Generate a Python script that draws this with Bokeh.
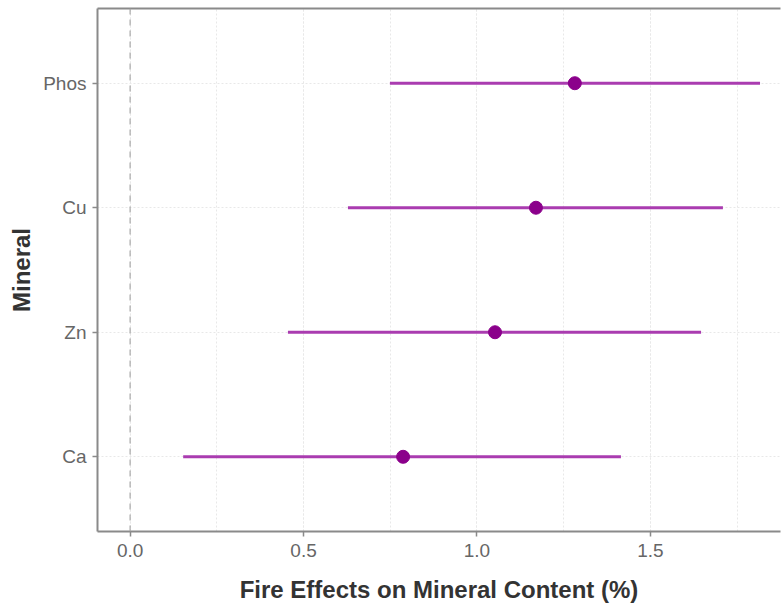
from bokeh.plotting import figure
from bokeh.models import (ColumnDataSource, Range1d, FactorRange, LinearAxis,
                          SingleIntervalTicker, FixedTicker, Span,
                          NumeralTickFormatter)
from bokeh.embed import file_html
from bokeh.resources import INLINE

# ---- data ----
minerals = ["Ca", "Zn", "Cu", "Phos"]
estimate = [0.787, 1.052, 1.170, 1.282]
lower = [0.153, 0.455, 0.628, 0.749]
upper = [1.415, 1.646, 1.709, 1.816]
x_label = "Fire Effects on Mineral Content (%)"
y_label = "Mineral"

src = ColumnDataSource(dict(mineral=minerals, est=estimate, lo=lower, hi=upper))

FONT = "Liberation Sans"
TICK_COL = "#666666"
TITLE_COL = "#333333"
FRAME_COL = "#8a8a8a"
GRID_COL = "#e8e8e8"

p = figure(width=781, height=605, output_backend="svg", toolbar_location=None,
           x_range=Range1d(-0.094, 1.875),
           y_range=FactorRange(factors=minerals, range_padding=0.05,
                               range_padding_units="percent"),
           min_border_left=97, min_border_right=1, min_border_top=8,
           min_border_bottom=73)

p.outline_line_color = None
p.background_fill_color = "white"
p.border_fill_color = "white"

# grids
p.xaxis.ticker = SingleIntervalTicker(interval=0.5, num_minor_ticks=2)
p.xaxis.formatter = NumeralTickFormatter(format="0.0")
p.xgrid.ticker = SingleIntervalTicker(interval=0.5, num_minor_ticks=2)
p.xgrid.grid_line_color = GRID_COL
p.xgrid.grid_line_dash = "2 2"
p.xgrid.grid_line_width = 1
p.xgrid.minor_grid_line_color = GRID_COL
p.xgrid.minor_grid_line_dash = "2 2"
p.ygrid.grid_line_color = GRID_COL
p.ygrid.grid_line_dash = "2 2"

# zero reference line
p.add_layout(Span(location=0, dimension="height", line_color="#a8a8a8",
                  line_dash="6 5", line_width=1.2))

# intervals and points
p.segment(x0="lo", x1="hi", y0="mineral", y1="mineral", source=src,
          line_color="#aa3cb0", line_width=3)
p.scatter(x="est", y="mineral", source=src, size=13, fill_color="#8b008b",
          line_color="#8b008b")

# axes styling
for ax in (p.xaxis[0], p.yaxis[0]):
    ax.axis_line_color = FRAME_COL
    ax.axis_line_width = 2
    ax.major_tick_line_color = FRAME_COL
    ax.major_tick_line_width = 1.5
    ax.major_tick_out = 5
    ax.major_tick_in = 0
    ax.minor_tick_line_color = None
    ax.major_label_text_font = FONT
    ax.major_label_text_font_size = "19px"
    ax.major_label_text_color = TICK_COL
    ax.axis_label_text_font = FONT
    ax.axis_label_text_font_size = "24px"
    ax.axis_label_text_font_style = "bold"
    ax.axis_label_text_color = TITLE_COL

p.xaxis.axis_label = x_label
p.xaxis.major_label_standoff = 7
p.xaxis.axis_label_standoff = 16
p.yaxis.axis_label = y_label
p.yaxis.major_label_standoff = 6
p.yaxis.axis_label_standoff = 5

# top border line drawn as a bare axis
top = LinearAxis(ticker=FixedTicker(ticks=[]), axis_line_color=FRAME_COL,
                 axis_line_width=2, major_tick_line_color=None,
                 minor_tick_line_color=None, major_label_text_font_size="0px",
                 major_tick_out=0, major_tick_in=0, major_label_standoff=0)
p.add_layout(top, "above")

open("out.html", "w").write(file_html(p, INLINE))
